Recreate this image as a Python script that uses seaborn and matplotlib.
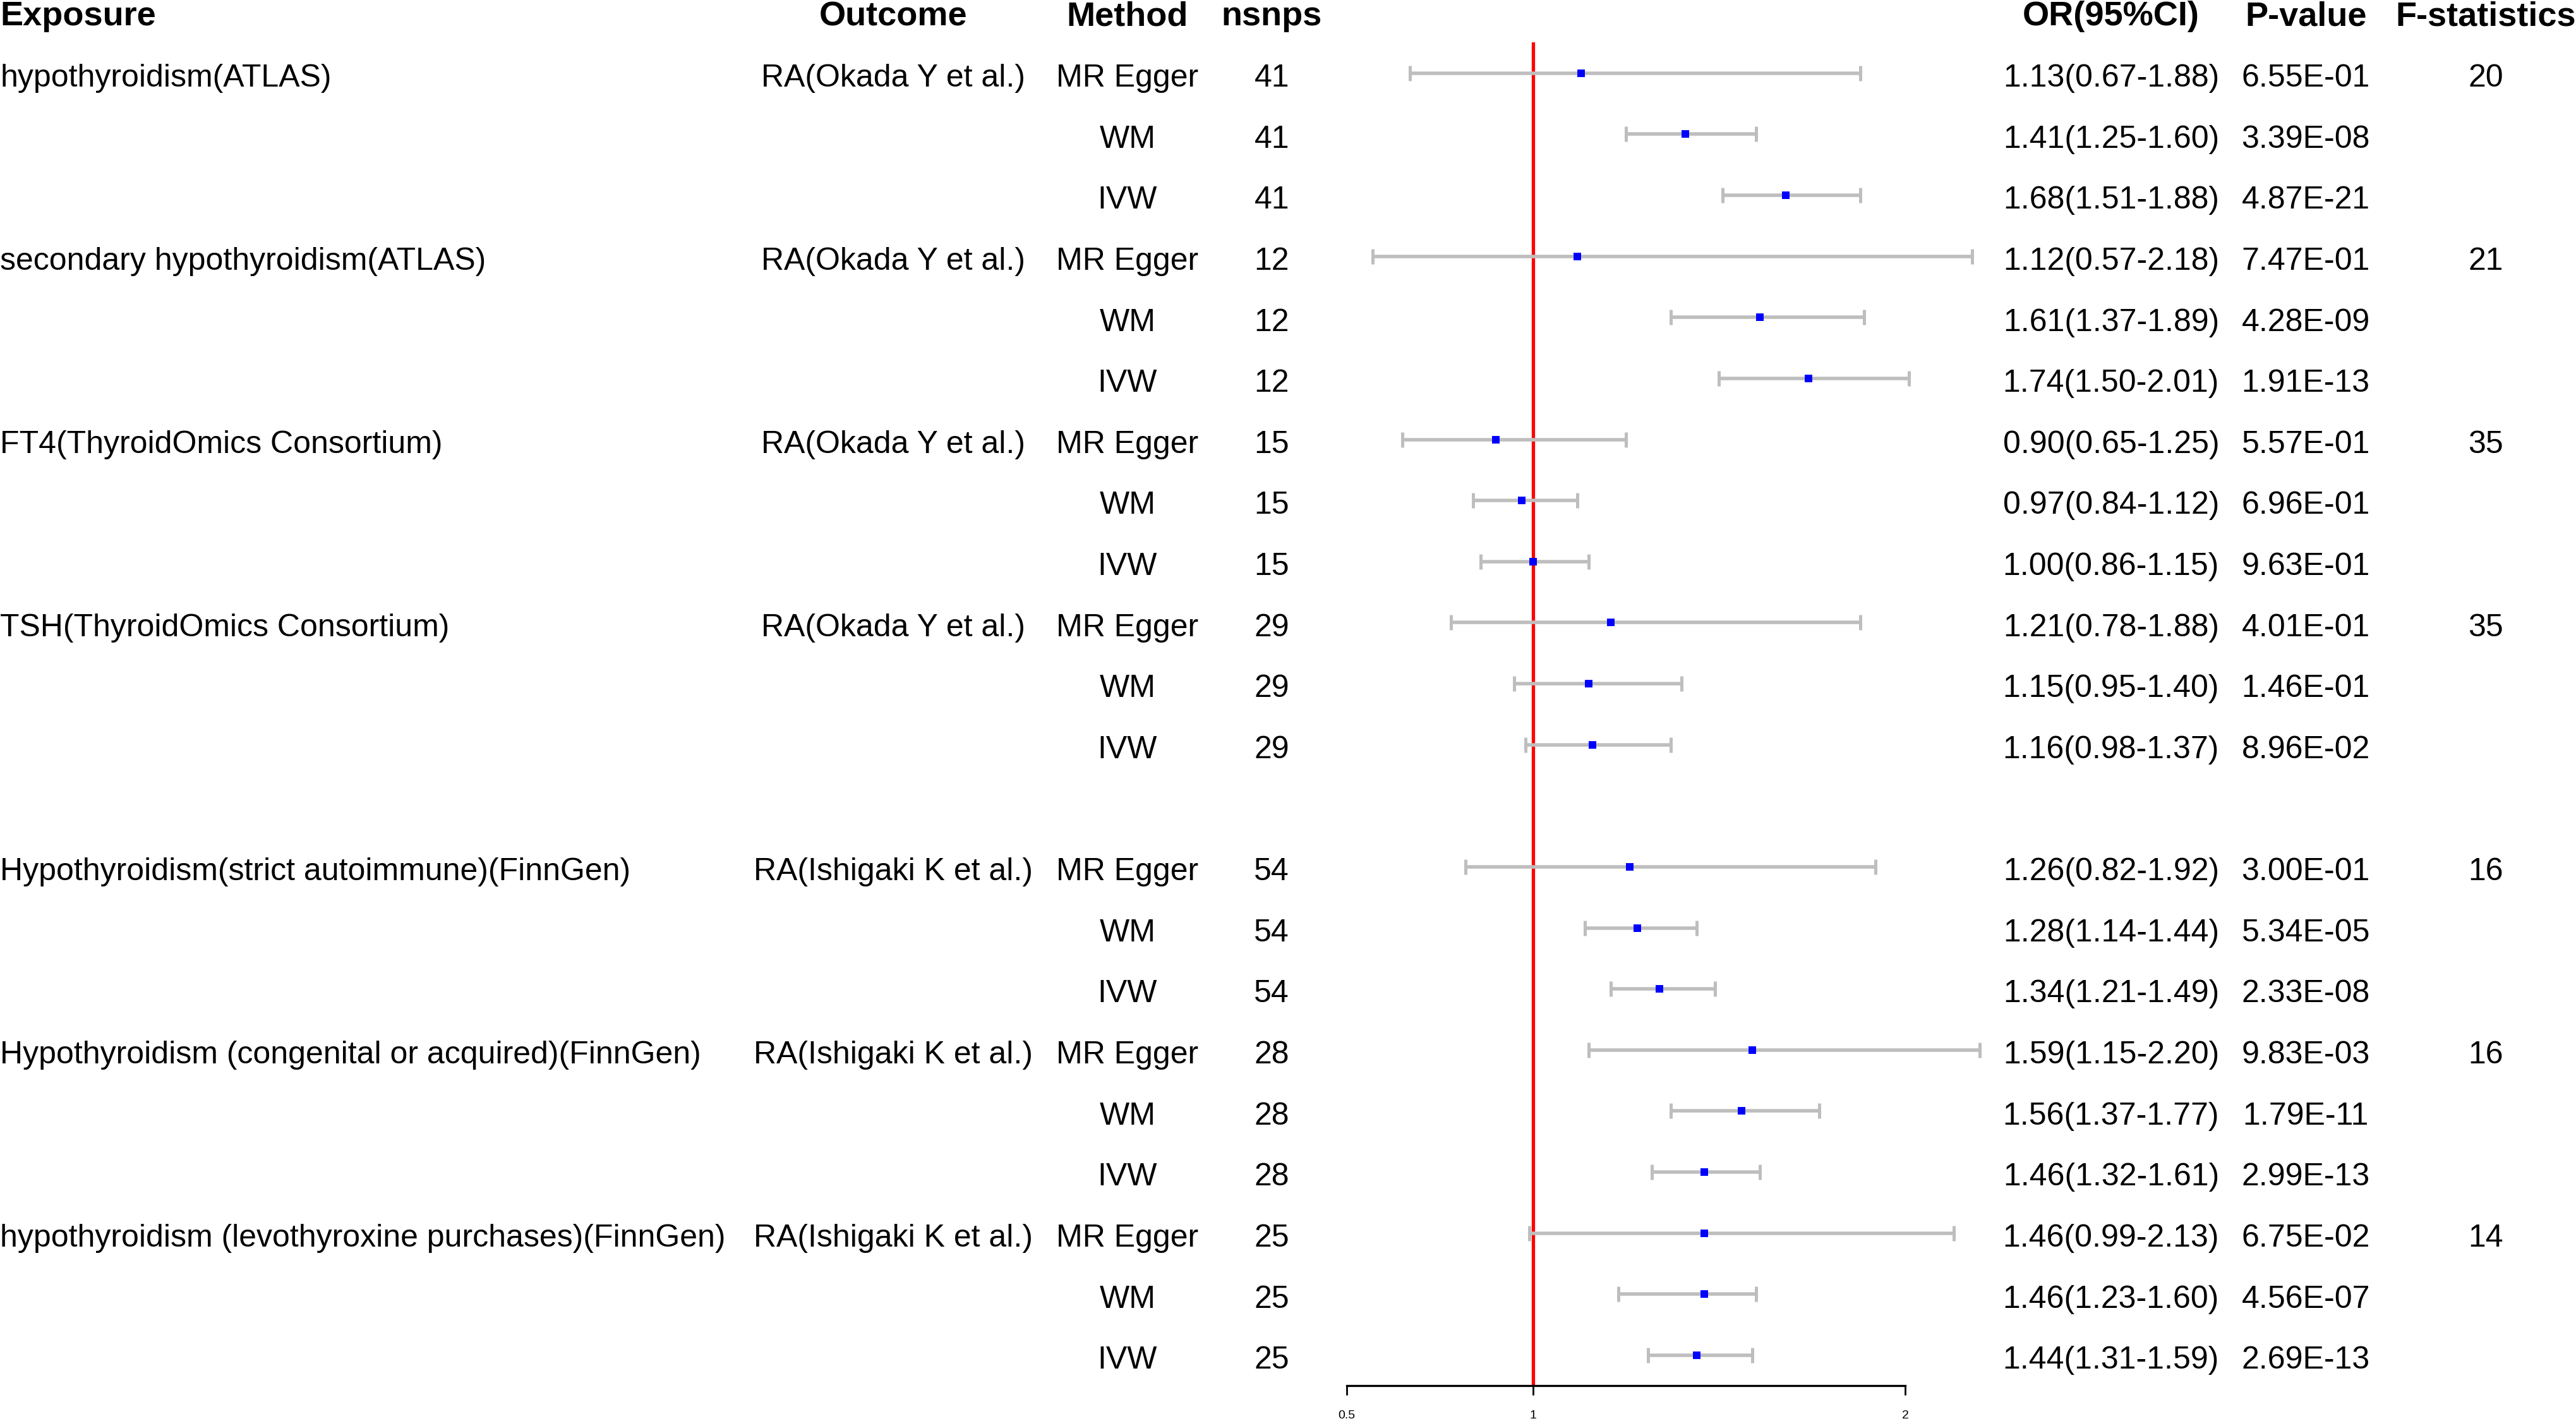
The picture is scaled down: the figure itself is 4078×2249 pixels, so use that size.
import numpy as np
import pandas as pd
import matplotlib.pyplot as plt
import seaborn as sns
from matplotlib.transforms import blended_transform_factory

# group-level columns (one entry per exposure)
exposures = [
    "hypothyroidism(ATLAS)",
    "secondary hypothyroidism(ATLAS)",
    "FT4(ThyroidOmics Consortium)",
    "TSH(ThyroidOmics Consortium)",
    "Hypothyroidism(strict autoimmune)(FinnGen)",
    "Hypothyroidism (congenital or acquired)(FinnGen)",
    "hypothyroidism (levothyroxine purchases)(FinnGen)",
]
outcomes = [
    "RA(Okada Y et al.)", "RA(Okada Y et al.)", "RA(Okada Y et al.)", "RA(Okada Y et al.)",
    "RA(Ishigaki K et al.)", "RA(Ishigaki K et al.)", "RA(Ishigaki K et al.)",
]
nsnps = [41, 12, 15, 29, 54, 28, 25]
f_stats = [20, 21, 35, 35, 16, 16, 14]
methods = ["MR Egger", "WM", "IVW"]

# row-level estimates (3 methods per exposure)
or_vals = [1.13, 1.41, 1.68, 1.12, 1.61, 1.74, 0.90, 0.97, 1.00, 1.21, 1.15, 1.16,
           1.26, 1.28, 1.34, 1.59, 1.56, 1.46, 1.46, 1.46, 1.44]
ci_low = [0.67, 1.25, 1.51, 0.57, 1.37, 1.50, 0.65, 0.84, 0.86, 0.78, 0.95, 0.98,
          0.82, 1.14, 1.21, 1.15, 1.37, 1.32, 0.99, 1.23, 1.31]
ci_high = [1.88, 1.60, 1.88, 2.18, 1.89, 2.01, 1.25, 1.12, 1.15, 1.88, 1.40, 1.37,
           1.92, 1.44, 1.49, 2.20, 1.77, 1.61, 2.13, 1.60, 1.59]
p_values = ["6.55E-01", "3.39E-08", "4.87E-21", "7.47E-01", "4.28E-09", "1.91E-13",
            "5.57E-01", "6.96E-01", "9.63E-01", "4.01E-01", "1.46E-01", "8.96E-02",
            "3.00E-01", "5.34E-05", "2.33E-08", "9.83E-03", "1.79E-11", "2.99E-13",
            "6.75E-02", "4.56E-07", "2.69E-13"]

# build long table; a blank row separates the ATLAS/ThyroidOmics block from FinnGen
rows = []
for i in range(len(or_vals)):
    g = i // 3
    rows.append({
        "group": g,
        "method": methods[i % 3],
        "OR": or_vals[i],
        "lo": ci_low[i],
        "hi": ci_high[i],
        "p": p_values[i],
        "row": i + 1 + (1 if g >= 4 else 0),
    })
df = pd.DataFrame(rows)

sns.set_theme(style="white")
plt.rcParams["font.family"] = ["Liberation Sans", "DejaVu Sans"]

fig = plt.figure(figsize=(20.39, 11.245), dpi=200)
ax = fig.add_axes([0.52275, 0.02477, 0.21684, 0.94526])
ax.set_xlim(0.5, 2)
ax.set_ylim(22.5, 0.5)

# reference line at OR = 1
ax.axvline(1, color="red", lw=1.9, zorder=1)

# confidence intervals
eb = ax.errorbar(
    x=df["OR"], y=df["row"],
    xerr=[df["OR"] - df["lo"], df["hi"] - df["OR"]],
    fmt="none", ecolor="#BEBEBE", elinewidth=2.0, capsize=4.3, capthick=1.8, zorder=2,
)
for part in eb.lines:
    if part is None:
        continue
    for artist in (part if isinstance(part, tuple) else [part]):
        artist.set_clip_on(False)

# point estimates
sns.scatterplot(data=df, x="OR", y="row", marker="s", color="#0000FF", s=19,
                linewidth=0, zorder=3, ax=ax, clip_on=False)

ax.set_xlabel("")
ax.set_ylabel("")
ax.set_yticks([])
ax.set_xticks([0.5, 1, 2])
ax.set_xticklabels(["0.5", "1", "2"])
for side in ["top", "right", "left"]:
    ax.spines[side].set_visible(False)
ax.spines["bottom"].set_bounds(0.5, 2)
ax.spines["bottom"].set_color("black")
ax.spines["bottom"].set_linewidth(1.2)
ax.tick_params(axis="x", bottom=True, length=5.4, width=1.0, color="black",
               labelsize=7, pad=8.5, labelcolor="black")
ax.patch.set_alpha(0)

# table columns
trans = blended_transform_factory(fig.transFigure, ax.transData)
body = dict(fontsize=18, color="black", va="baseline", transform=trans)
head = dict(fontsize=19.5, fontweight="bold", color="black", va="baseline", transform=trans)
base = 0.22  # baseline sits a little below the row centre

col_x = {"exp": 0.0, "out": 0.3467, "met": 0.4377, "n": 0.4937,
         "or": 0.8195, "p": 0.8951, "f": 0.9649}

ax.text(col_x["exp"], base, "Exposure", ha="left", **head)
ax.text(col_x["out"], base, "Outcome", ha="center", **head)
ax.text(col_x["met"], base, "Method", ha="center", **head)
ax.text(col_x["n"], base, "nsnps", ha="center", **head)
ax.text(col_x["or"], base, "OR(95%CI)", ha="center", **head)
ax.text(col_x["p"], base, "P-value", ha="center", **head)
ax.text(col_x["f"], base, "F-statistics", ha="center", **head)

for _, r in df.iterrows():
    g = int(r["group"])
    y = r["row"] + base
    if r["method"] == "MR Egger":
        ax.text(col_x["exp"], y, exposures[g], ha="left", **body)
        ax.text(col_x["out"], y, outcomes[g], ha="center", **body)
        ax.text(col_x["f"], y, str(f_stats[g]), ha="center", **body)
    ax.text(col_x["met"], y, r["method"], ha="center", **body)
    ax.text(col_x["n"], y, str(nsnps[g]), ha="center", **body)
    ax.text(col_x["or"], y, f"{r['OR']:.2f}({r['lo']:.2f}-{r['hi']:.2f})", ha="center", **body)
    ax.text(col_x["p"], y, r["p"], ha="center", **body)

fig.savefig("out.png", dpi=200, facecolor="white")
